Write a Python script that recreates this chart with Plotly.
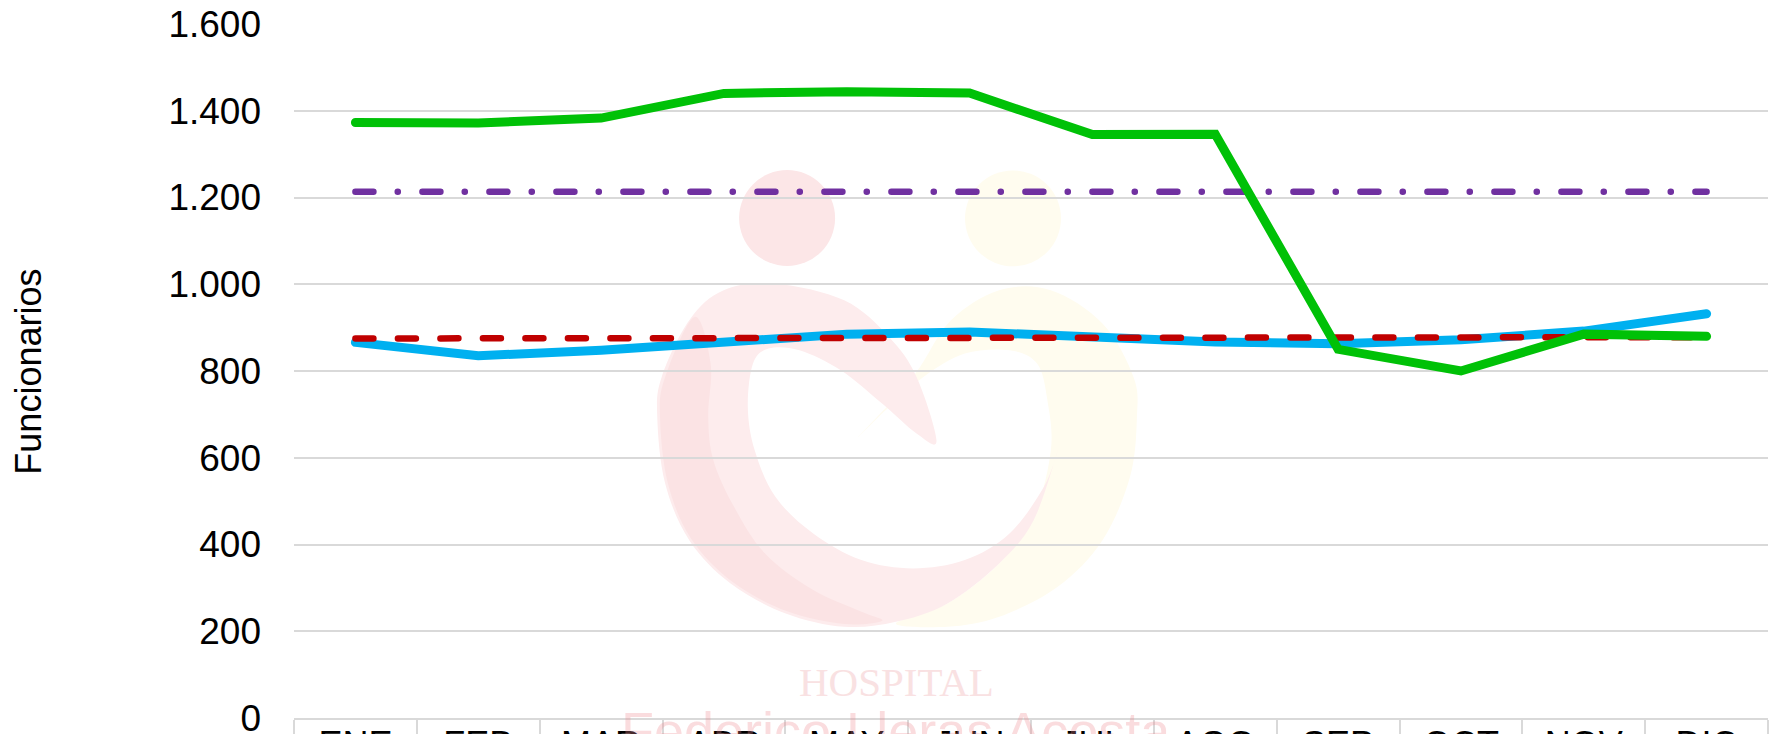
import plotly.graph_objects as go

months = ["ENE", "FEB", "MAR", "ABR", "MAY", "JUN", "JUL", "AGO", "SEP", "OCT", "NOV", "DIC"]
funcionarios_a = [866, 835, 848, 868, 885, 890, 877, 867, 863, 872, 892, 932]
referencia_b = [875, 875, 875, 875, 875, 875, 875, 875, 875, 875, 875, 878]
referencia_c = [1213] * 12
funcionarios_d = [1373, 1372, 1383, 1440, 1444, 1441, 1345, 1346, 850, 800, 885, 880]
y_ticks = [0, 200, 400, 600, 800, 1000, 1200, 1400, 1600]

W, H = 1778, 734
L, R, T, B = 293.6, 1767.6, 23.5, 718.0

# watermark outlines, in zoom-crop coordinates of the reference logo
yellow_ring = [(690,860),(800,740),(870,650),(960,510),(1100,420),(1250,420),(1400,520),(1490,680),(1500,800),
               (1480,980),(1400,1170),(1270,1310),(1100,1400),(950,1430),(800,1420),(950,1360),(1100,1240),
               (1200,1100),(1250,900),(1240,750),(1210,640),(1130,600),(1000,610),(880,680),(780,770)]
pink_ring = [(918,872),(860,680),(780,560),(650,450),(450,400),(300,420),(200,510),(120,680),(107,800),(130,1000),
             (200,1170),(320,1300),(480,1390),(650,1430),(800,1415),(950,1360),(1100,1240),(1200,1110),(1270,900),
             (1230,1010),(1130,1150),(1000,1230),(850,1255),(700,1230),(560,1150),(450,1040),(390,900),(370,770),
             (385,640),(430,595),(520,600),(640,660),(760,760),(860,850)]
pink_band = [(215,500),(130,680),(115,800),(138,1000),(205,1165),(325,1295),(482,1383),(650,1422),(760,1412),
             (700,1385),(560,1320),(420,1210),(330,1070),(270,930),(255,800),(262,640)]


def fx(x):
    return (x - L) / (R - L)


def fy(y):
    return 1 - (y - T) / (B - T)


def px(p):
    return fx(620 + p[0] / 2.904), fy(150 + p[1] / 3)


def smooth(points):
    pts = [px(p) for p in points]
    n = len(pts)
    d = f"M{pts[0][0]:.5f},{pts[0][1]:.5f}"
    for i in range(n):
        p0, p1, p2, p3 = pts[i - 1], pts[i], pts[(i + 1) % n], pts[(i + 2) % n]
        c1 = (p1[0] + (p2[0] - p0[0]) / 6, p1[1] + (p2[1] - p0[1]) / 6)
        c2 = (p2[0] - (p3[0] - p1[0]) / 6, p2[1] - (p3[1] - p1[1]) / 6)
        d += f" C{c1[0]:.5f},{c1[1]:.5f} {c2[0]:.5f},{c2[1]:.5f} {p2[0]:.5f},{p2[1]:.5f}"
    return d + " Z"


def blob(points, color):
    return dict(type="path", xref="paper", yref="paper", layer="below", path=smooth(points),
                fillcolor=color, line=dict(width=0))


def disc(cx, cy, r, color):
    return dict(type="circle", xref="paper", yref="paper", layer="below",
                x0=fx(cx - r), x1=fx(cx + r), y0=fy(cy + r), y1=fy(cy - r),
                fillcolor=color, line=dict(width=0))


fig = go.Figure()
fig.add_trace(go.Scatter(x=months, y=funcionarios_a, mode="lines", line=dict(color="#00B0F0", width=9)))
fig.add_trace(go.Scatter(x=months, y=referencia_b, mode="lines",
                         line=dict(color="#C00000", width=6.5, dash="18px,24.5px")))
fig.add_trace(go.Scatter(x=months, y=referencia_c, mode="lines",
                         line=dict(color="#7030A0", width=6.5, dash="18px,24.3px,0.1px,24.6px")))
fig.add_trace(go.Scatter(x=months, y=funcionarios_d, mode="lines", line=dict(color="#00C107", width=9)))

FONT = "Liberation Sans, Arial, sans-serif"
fig.update_layout(
    width=W, height=H, showlegend=False, separators=",.",
    paper_bgcolor="white", plot_bgcolor="rgba(0,0,0,0)",
    margin=dict(l=L, r=W - R, t=T, b=H - B, autoexpand=False),
    font=dict(family=FONT, size=37, color="#000000"),
    xaxis=dict(type="category", range=[-0.5, 11.5], tickson="boundaries", ticks="outside", ticklen=16, tickwidth=2,
               tickcolor="#D9D9D9", showgrid=False, showline=True, linecolor="#D9D9D9", linewidth=2,
               tickfont=dict(size=36), ticklabelstandoff=-6, ticklabeloverflow="allow", automargin=False),
    yaxis=dict(range=[0, 1600], tickvals=y_ticks, tickformat=",d", showgrid=True, gridcolor="#D9D9D9", gridwidth=2,
               zeroline=False, showline=False, ticks="", ticklabelstandoff=32, ticklabeloverflow="allow",
               automargin=False),
    shapes=[
        blob(yellow_ring, "#FFFCEF"), disc(1012.6, 218, 48, "#FFFCEF"),
        blob(pink_ring, "#FDECED"), blob(pink_band, "#FBE3E4"), disc(786.7, 217.7, 48, "#FCE6E7"),
    ],
    annotations=[
        dict(text="Funcionarios", xref="paper", yref="paper", x=fx(28), y=fy(371), xanchor="center", yanchor="middle",
             textangle=-90, showarrow=False, font=dict(size=36)),
        dict(text="HOSPITAL", xref="paper", yref="paper", x=fx(896), y=fy(682), yanchor="middle", showarrow=False,
             font=dict(family="Liberation Serif", size=41, color="#F9E1E2")),
        dict(text="Federico Lleras Acosta", xref="paper", yref="paper", x=fx(896), y=fy(731), showarrow=False,
             yanchor="middle", font=dict(family="Liberation Sans", size=54, color="rgba(240,140,145,0.3)")),
    ],
)

fig.write_html("out.html", config=dict(displayModeBar=False), post_script="""
document.body.style.margin='0';
document.querySelectorAll('.scatterlayer path.js-line').forEach(function(p){p.style.strokeLinecap='round';});
""")
